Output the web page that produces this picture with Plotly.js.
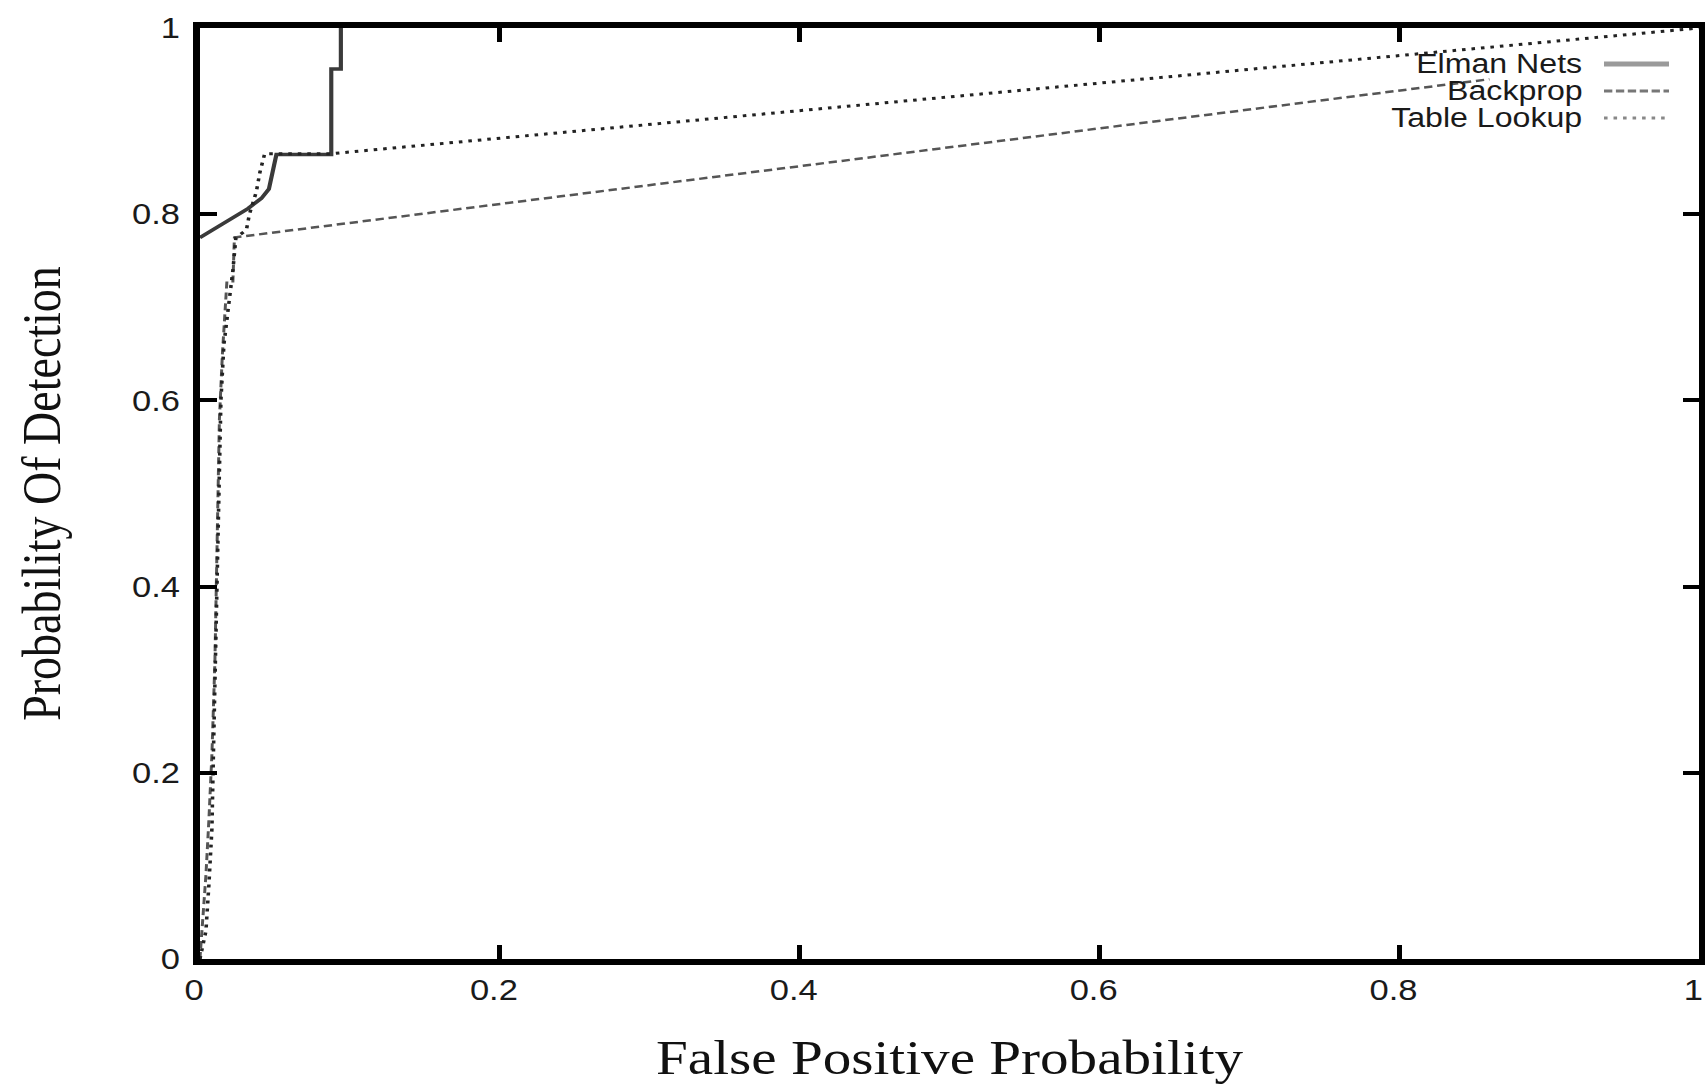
<!DOCTYPE html>
<html>
<head>
<meta charset="utf-8">
<script src="https://cdn.plot.ly/plotly-3.0.1.min.js"></script>
<style>
  html, body { margin: 0; padding: 0; background: #ffffff; overflow: hidden; }
  #wrap { width: 1705px; height: 1084px; overflow: hidden; }
  #chart { transform-origin: 0 0; }
</style>
</head>
<body>
<div id="wrap"><div id="chart"></div></div>
<script>
// ---- Data ----
const seriesNames = ['Elman Nets', 'Backprop', 'Table Lookup'];

const elmanFpr = [0, 0.032, 0.041, 0.046, 0.051, 0.0876, 0.0876, 0.094, 0.094];
const elmanPd  = [0.775, 0.806, 0.817, 0.827, 0.864, 0.864, 0.956, 0.956, 1.0];

const backpropFpr = [0, 0.002, 0.004, 0.006, 0.008, 0.010, 0.011, 0.012, 0.013, 0.015, 0.017, 0.018, 0.022, 0.023, 0.86];
const backpropPd  = [0, 0.04, 0.09, 0.15, 0.22, 0.32, 0.40, 0.50, 0.58, 0.65, 0.70, 0.728, 0.728, 0.775, 0.945];

const tableFpr = [0, 0.004, 0.006, 0.008, 0.009, 0.010, 0.012, 0.013, 0.014, 0.016, 0.019, 0.022, 0.024, 0.031, 0.033, 0.0376, 0.040, 0.0432, 0.0876, 1.0];
const tablePd  = [0, 0.03, 0.08, 0.14, 0.22, 0.30, 0.42, 0.52, 0.60, 0.66, 0.70, 0.74, 0.775, 0.783, 0.80, 0.824, 0.845, 0.865, 0.865, 1.0];

const tickValues = [0, 0.2, 0.4, 0.6, 0.8, 1];
const tickLabels = ['0', '0.2', '0.4', '0.6', '0.8', '1'];

const xTitle = 'False Positive Probability';
const yTitle = 'Probability Of Detection';

// ---- Styles ----
const lineStyles = [
  {color: '#3a3a3a', width: 3.5, dash: 'solid'},
  {color: '#555555', width: 2.5, dash: '7px,4px'},
  {color: '#222222', width: 3,   dash: '3px,5px'}
];
const legendStyles = [
  {color: '#9a9a9a', width: 5, dash: 'solid'},
  {color: '#777777', width: 3, dash: '7px,3px'},
  {color: '#888888', width: 3, dash: '3px,5px'}
];

// The reference picture is stretched horizontally (~1.19x); reproduce that
const S = 1.19;
const W = 1705, H = 1084;
const Wr = Math.round(W / S);
const M = {l: Math.round(200 / S), r: Math.round(6 / S), t: 28, b: 125};
const plotW = Wr - M.l - M.r, plotH = H - M.t - M.b;
const px2x = px => (px / S - M.l) / plotW;
const py2y = py => (H - M.b - py) / plotH;

const xs = [elmanFpr, backpropFpr, tableFpr];
const ys = [elmanPd, backpropPd, tablePd];

const traces = seriesNames.map((name, i) => ({
  type: 'scatter',
  mode: 'lines',
  name: name,
  x: xs[i],
  y: ys[i],
  line: lineStyles[i],
  hoverinfo: 'skip'
}));

// gnuplot-style legend: right-aligned labels with samples on the right
const legendRows = [64, 91, 118];
const annotations = seriesNames.map((name, i) => ({
  xref: 'paper', yref: 'paper',
  x: px2x(1585), y: py2y(legendRows[i]),
  xanchor: 'right', yanchor: 'middle',
  text: name, showarrow: false,
  font: {family: 'Liberation Sans, Arial, sans-serif', size: 27, color: '#1a1a1a'}
}));
const shapes = seriesNames.map((name, i) => ({
  type: 'line', xref: 'paper', yref: 'paper',
  x0: px2x(1604), x1: px2x(1669),
  y0: py2y(legendRows[i]), y1: py2y(legendRows[i]),
  line: legendStyles[i]
}));

const axisCommon = {
  range: [0, 1],
  tickmode: 'array',
  tickvals: tickValues,
  ticktext: tickLabels,
  ticks: 'inside',
  ticklen: 14,
  tickwidth: 4,
  tickcolor: '#000',
  showline: true,
  linewidth: 6,
  linecolor: '#000',
  mirror: 'allticks',
  showgrid: false,
  zeroline: false,
  fixedrange: true,
  ticklabeloverflow: 'allow',
  tickfont: {family: 'Liberation Sans, Arial, sans-serif', size: 29, color: '#1a1a1a'}
};

const layout = {
  width: Wr, height: H,
  margin: M,
  paper_bgcolor: '#ffffff',
  plot_bgcolor: '#ffffff',
  showlegend: false,
  xaxis: Object.assign({}, axisCommon, {
    ticklabelshift: -5,
    title: {text: xTitle, standoff: 42,
      font: {family: 'Liberation Serif, Times New Roman, serif', size: 48, color: '#111'}}
  }),
  yaxis: Object.assign({}, axisCommon, {
    ticklabelstandoff: 5,
    title: {text: yTitle, standoff: 47,
      font: {family: 'Liberation Serif, Times New Roman, serif', size: 46, color: '#111'}}
  }),
  annotations: annotations,
  shapes: shapes
};

const chartDiv = document.getElementById('chart');
chartDiv.style.width = Wr + 'px';
chartDiv.style.height = H + 'px';
chartDiv.style.transform = 'scale(' + S + ',1)';
Plotly.newPlot(chartDiv, traces, layout, {staticPlot: true, displayModeBar: false});
</script>
</body>
</html>
